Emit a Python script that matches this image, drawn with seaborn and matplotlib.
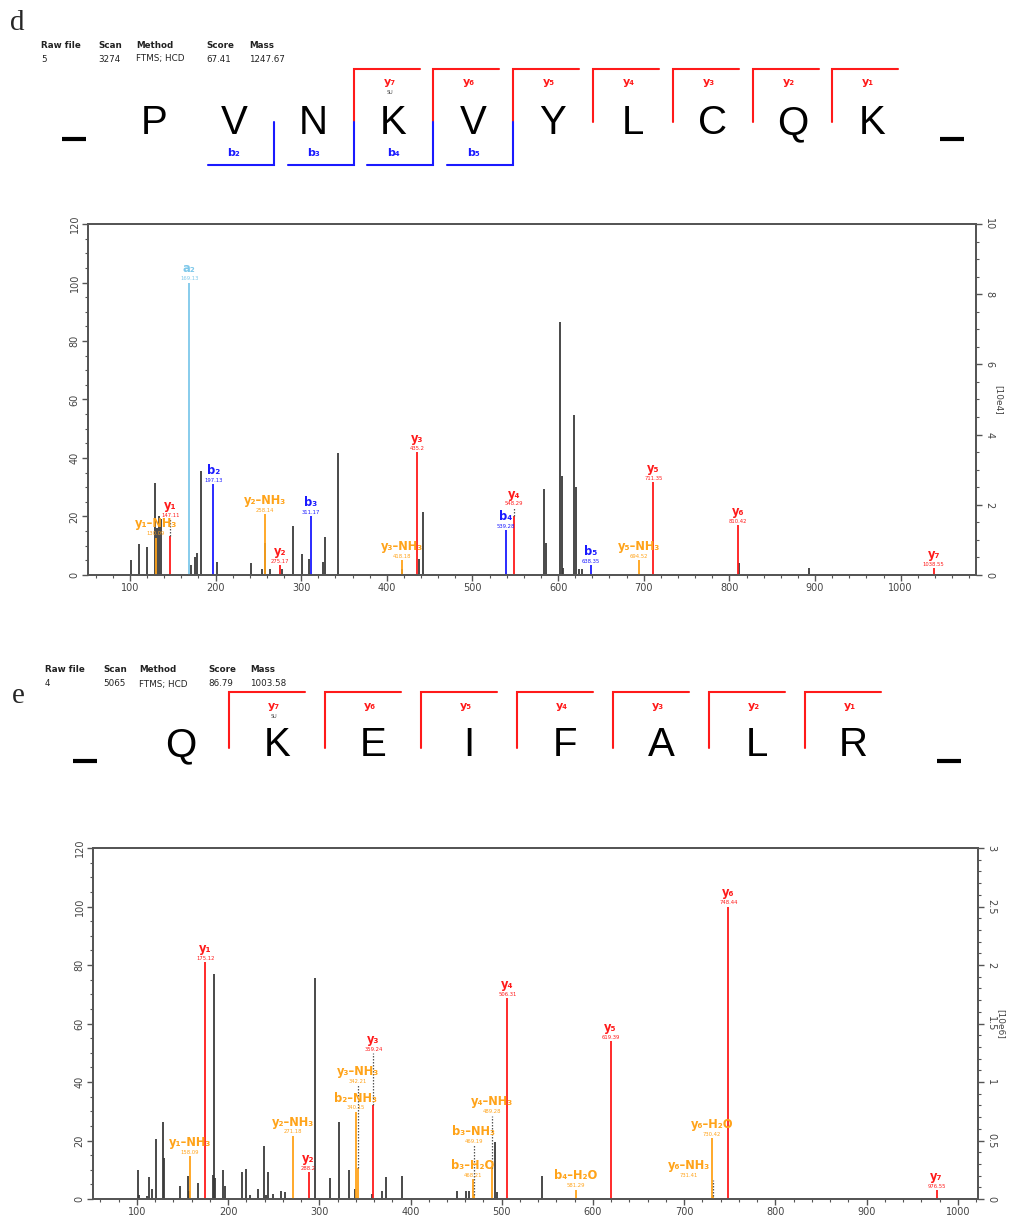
import numpy as np
import pandas as pd
import seaborn as sns
import matplotlib.pyplot as plt
from matplotlib.ticker import MultipleLocator

# ---------------- panel d ----------------
d_keys = ['Raw file', 'Scan', 'Method', 'Score', 'Mass']
d_vals = ['5', '3274', 'FTMS; HCD', '67.41', '1247.67']
d_sequence = ['P', 'V', 'N', 'K', 'V', 'Y', 'L', 'C', 'Q', 'K']
d_y_ions = [1, 2, 3, 4, 5, 6, 7]
d_b_ions = [2, 3, 4, 5]

# unassigned peaks (m/z, relative intensity %)
d_peak_mz = [101, 110, 119.5, 129, 131, 134, 136, 171, 175.5, 178, 183, 201.5,
             241, 254, 258, 263, 277, 290.5, 300.5, 309, 326, 328, 343.5,
             417.5, 437, 442.5, 583.5, 586, 602, 604, 606, 619, 621, 624,
             627.5, 811.5, 893.5]
d_peak_int = [5.1, 10.5, 9.6, 31.3, 16.2, 20, 19, 3.3, 6, 7.5, 35.7, 4.5,
              4, 2, 11, 2.2, 2.2, 16.6, 7.3, 5.4, 4.6, 13, 41.6,
              2.2, 5.4, 21.4, 29.4, 10.9, 86.6, 33.7, 2.3, 54.8, 30, 2.2,
              2, 4, 2.3]

# assigned fragment ions
d_ion_name = ['a₂', 'y₁–NH₃', 'y₁', 'b₂', 'y₂–NH₃', 'y₂', 'b₃', 'y₃–NH₃', 'y₃',
              'b₄', 'y₄', 'b₅', 'y₅–NH₃', 'y₅', 'y₆', 'y₇']
d_ion_label = ['169.13', '130.09', '147.11', '197.13', '258.14', '275.17', '311.17',
               '418.18', '435.2', '539.28', '548.29', '638.35', '694.52', '711.35',
               '810.42', '1038.55']
d_ion_mz = [169.13, 130.09, 147.11, 197.13, 258.14, 275.17, 311.17, 418.18, 435.2,
            539.28, 548.29, 638.35, 694.52, 711.35, 810.42, 1038.55]
d_ion_int = [100, 12.8, 13.4, 31, 20.8, 3.3, 20.2, 5.1, 42, 15.4, 20.2, 3.4, 5,
             31.7, 17, 2.3]
d_ion_top = [100, 12.8, 19, 31, 20.8, 3.3, 20.2, 5.1, 42, 15.4, 23, 3.4, 5,
             31.7, 17, 2.3]
d_ion_kind = ['a', 'loss', 'y', 'b', 'loss', 'y', 'b', 'loss', 'y', 'b', 'y', 'b',
              'loss', 'y', 'y', 'y']
d_ion_shift = [0] * 16

# ---------------- panel e ----------------
e_keys = ['Raw file', 'Scan', 'Method', 'Score', 'Mass']
e_vals = ['4', '5065', 'FTMS; HCD', '86.79', '1003.58']
e_sequence = ['Q', 'K', 'E', 'I', 'F', 'A', 'L', 'R']
e_y_ions = [1, 2, 3, 4, 5, 6, 7]
e_b_ions = []

e_peak_mz = [101.6, 102.7, 110.9, 113.4, 116.3, 120.7, 129.1, 129.8, 147.4, 156.6,
             157.6, 166.8, 184, 185.1, 186, 195, 196.8, 215, 219.4, 224.2, 233.3,
             239.6, 241.4, 243.6, 249.1, 257.9, 261.9, 295, 312, 322.1, 332.5,
             339, 358, 369, 372.6, 390.8, 451, 461, 464, 493, 494.5, 543.6]
e_peak_int = [10, 1.5, 1.1, 7.5, 3.5, 20.6, 26.2, 14, 4.3, 7.7,
              2.6, 5.5, 8.3, 77, 7.2, 10, 4.3, 9.4, 10.2, 1.5, 3.4,
              18.2, 1.5, 9.4, 1.8, 2.6, 2.3, 75.4, 7.2, 26.2, 10,
              3.4, 1.8, 2.6, 7.5, 7.7, 2.6, 2.6, 2.6, 19.5, 2.3, 7.7]

e_ion_name = ['y₁–NH₃', 'y₁', 'y₂–NH₃', 'y₂', 'b₂–NH₃', 'y₃–NH₃', 'y₃', 'b₃–H₂O',
              'b₃–NH₃', 'y₄–NH₃', 'y₄', 'b₄–H₂O', 'y₅', 'y₆–H₂O', 'y₆–NH₃', 'y₆', 'y₇']
e_ion_label = ['158.09', '175.12', '271.18', '288.2', '340.15', '342.21', '359.24',
               '468.21', '469.19', '489.28', '506.31', '581.29', '619.39', '730.42',
               '731.41', '748.44', '976.55']
e_ion_mz = [158.09, 175.12, 271.18, 288.2, 340.15, 342.21, 359.24, 468.21, 469.19,
            489.28, 506.31, 581.29, 619.39, 730.42, 731.41, 748.44, 976.55]
e_ion_int = [14.6, 81, 21.6, 9.1, 29.8, 10.6, 32.2, 6.8, 1.5, 10.6, 68.6, 3.2, 54,
             20.8, 1, 100, 3]
e_ion_top = [14.6, 81, 21.6, 9.1, 29.8, 39, 49.8, 6.8, 18.4, 28.5, 68.6, 3.2, 54,
             20.8, 6.6, 100, 3]
e_ion_kind = ['loss', 'y', 'loss', 'y', 'loss', 'loss', 'y', 'loss', 'loss', 'loss',
              'y', 'loss', 'y', 'loss', 'loss', 'y', 'y']
e_ion_shift = [0] * 14 + [-26, 0, 0]

colors = {'y': '#ff1a1a', 'b': '#1a1aff', 'a': '#7ec8ea', 'loss': '#ffa319'}
peak_color = '#3a3a3a'
axis_color = '#555555'

sns.set_style('ticks')
plt.rcParams['font.family'] = ['DejaVu Sans']

fig = plt.figure(figsize=(10.1, 12.18), dpi=100)
ov = fig.add_axes([0, 0, 1, 1], zorder=-1)
ov.set_xlim(0, 1010)
ov.set_ylim(1218, 0)
ov.axis('off')


def draw_header(keys, vals, xs, y_key, y_val):
    for k, v, x in zip(keys, vals, xs):
        ov.text(x, y_key, k, fontsize=6.3, fontweight='bold', color='#222222', va='center')
        ov.text(x, y_val, v, fontsize=6.3, color='#222222', va='center')


def draw_sequence(seq, y_ions, b_ions, x0, step, base, top, vmid, bottom,
                  hlen, ylab_y, ydx, blab_y, bdx):
    n = len(seq)
    for i, aa in enumerate(seq):
        ov.text(x0 + i * step, base, aa, fontsize=29, family='Liberation Sans',
                ha='center', va='baseline', color='black')
    for x in (x0 - step, x0 + n * step):
        ov.plot([x - 12, x + 12], [base + 5, base + 5], color='black', lw=3,
                solid_capstyle='butt')
    for k in y_ions:
        bx = x0 + (n - k - 0.5) * step
        ov.plot([bx, bx, bx + hlen], [vmid, top, top], color=colors['y'], lw=1.5,
                solid_joinstyle='miter')
        sub = str(k).translate(str.maketrans('0123456789', '₀₁₂₃₄₅₆₇₈₉'))
        ov.text(bx + ydx, ylab_y, 'y' + sub, fontsize=8, fontweight='bold',
                color=colors['y'], ha='center', va='center')
        if k == 7:
            ov.text(bx + ydx, ylab_y + 11, 'SU', fontsize=3.5, color='#444444',
                    ha='center', va='center')
    for k in b_ions:
        bx = x0 + (k - 0.5) * step
        ov.plot([bx - hlen, bx, bx], [bottom, bottom, vmid], color=colors['b'], lw=1.5,
                solid_joinstyle='miter')
        sub = str(k).translate(str.maketrans('0123456789', '₀₁₂₃₄₅₆₇₈₉'))
        ov.text(bx - bdx, blab_y, 'b' + sub, fontsize=8, fontweight='bold',
                color=colors['b'], ha='center', va='center')


def draw_spectrum(rect, peak_mz, peak_int, names, labels, mz, inten, top, kind, shift,
                  xlim, right_max, right_major, right_minor, right_label):
    ax = fig.add_axes(rect)
    peaks = pd.DataFrame({'mz': peak_mz, 'int': peak_int})
    ions = pd.DataFrame({'name': names, 'label': labels, 'mz': mz, 'int': inten,
                         'top': top, 'kind': kind, 'shift': shift})
    ax.vlines(peaks['mz'], 0, peaks['int'], color=peak_color, lw=1.3, zorder=2)
    for _, r in ions.iterrows():
        c = colors[r['kind']]
        ax.vlines(r['mz'], 0, r['int'], color=c, lw=1.3, zorder=3)
        if r['top'] > r['int']:
            ax.vlines(r['mz'], r['int'], r['top'], color='#555555', lw=0.9,
                      linestyles=(0, (1.2, 1.2)), zorder=3)
        lx = r['mz'] + r['shift']
        ax.annotate(r['label'], (lx, r['top']), xytext=(0, 1), textcoords='offset points',
                    ha='center', va='bottom', fontsize=3.8, color=c, zorder=4)
        ax.annotate(r['name'], (lx, r['top']), xytext=(0, 5.2), textcoords='offset points',
                    ha='center', va='bottom', fontsize=8.3, fontweight='bold', color=c,
                    zorder=4)
    ax.set_xlim(*xlim)
    ax.set_ylim(0, 120)
    ax.xaxis.set_major_locator(MultipleLocator(100))
    ax.xaxis.set_minor_locator(MultipleLocator(20))
    ax.yaxis.set_major_locator(MultipleLocator(20))
    ax.yaxis.set_minor_locator(MultipleLocator(5))
    ax.set_xticks(range(100, 1001, 100))
    ax.tick_params(axis='both', which='major', length=4, width=1, color=axis_color,
                   labelsize=7, labelcolor='#444444', pad=2)
    ax.tick_params(axis='both', which='minor', length=2.5, width=0.8, color=axis_color)
    plt.setp(ax.get_yticklabels(), rotation=90, va='center')
    for s in ax.spines.values():
        s.set_color(axis_color)
        s.set_linewidth(1.3)
    ax.set_facecolor('white')

    ax2 = ax.twinx()
    ax2.set_ylim(0, right_max)
    ax2.yaxis.set_major_locator(MultipleLocator(right_major))
    ax2.yaxis.set_minor_locator(MultipleLocator(right_minor))
    ax2.tick_params(axis='y', which='major', length=4, width=1, color=axis_color,
                    labelsize=7, labelcolor='#444444', pad=2)
    ax2.tick_params(axis='y', which='minor', length=2.5, width=0.8, color=axis_color)
    ax2.yaxis.set_major_formatter(plt.FuncFormatter(lambda v, _: f'{v:g}'))
    plt.setp(ax2.get_yticklabels(), rotation=270, va='center')
    for s in ax2.spines.values():
        s.set_color(axis_color)
        s.set_linewidth(1.3)
    ax2.set_ylabel(right_label, rotation=270, fontsize=6.5, color='#444444', labelpad=6)
    return ax


# panel d
ov.text(10, 30, 'd', fontsize=21, family='Liberation Serif', va='baseline')
draw_header(d_keys, d_vals, [41, 98, 136, 206, 249], 45, 59)
draw_sequence(d_sequence, d_y_ions, d_b_ions, x0=154, step=79.8, base=134, top=69,
              vmid=122, bottom=165, hlen=66, ylab_y=82, ydx=36, blab_y=153, bdx=40)
draw_spectrum([88 / 1010, 1 - 575 / 1218, 888 / 1010, 351 / 1218],
              d_peak_mz, d_peak_int, d_ion_name, d_ion_label, d_ion_mz, d_ion_int,
              d_ion_top, d_ion_kind, d_ion_shift, (51, 1088), 10, 2, 0.5, '[10e4]')

# panel e
ov.text(12, 703, 'e', fontsize=21, family='Liberation Serif', va='baseline')
draw_header(e_keys, e_vals, [45, 103, 139, 208, 250], 669, 684)
draw_sequence(e_sequence, e_y_ions, e_b_ions, x0=181, step=96, base=756, top=692,
              vmid=748, bottom=790, hlen=76, ylab_y=706, ydx=45, blab_y=780, bdx=40)
draw_spectrum([93 / 1010, 1 - 1199 / 1218, 885 / 1010, 351 / 1218],
              e_peak_mz, e_peak_int, e_ion_name, e_ion_label, e_ion_mz, e_ion_int,
              e_ion_top, e_ion_kind, e_ion_shift, (52, 1022), 3, 0.5, 0.1, '[10e6]')

fig.savefig('out.png', dpi=100)
